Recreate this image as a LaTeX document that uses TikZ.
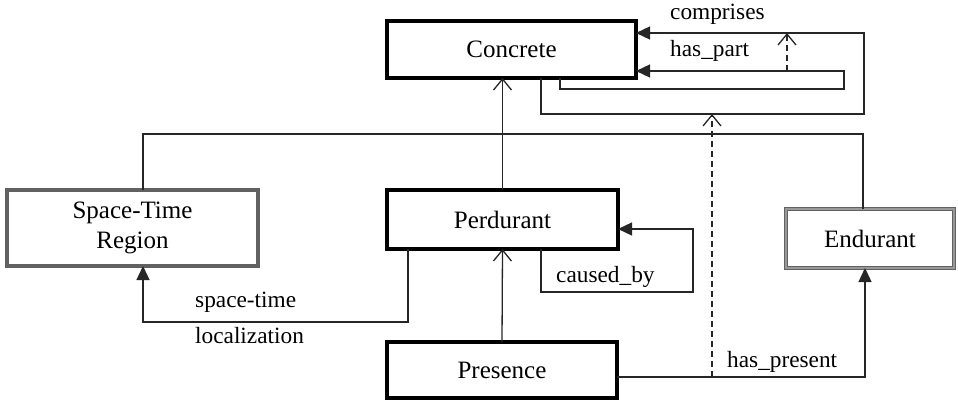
\documentclass[tikz,border=0pt]{standalone}
\usepackage{fontspec}
\setmainfont{Liberation Serif}
\usetikzlibrary{arrows.meta}
\tikzset{
  box/.style={draw=black, line width=3.2pt, fill=white, inner sep=0pt, outer sep=0pt, font=\fontsize{25}{30}\selectfont, align=center},
  graybox/.style={box, draw=black!62, line width=4pt},
  dgraybox/.style={box, draw=black!62, line width=1.7pt, double=black!40, double distance=1.2pt},
  lbl/.style={font=\fontsize{23.3}{27}\selectfont, inner sep=0pt, anchor=base west},
  conn/.style={line width=1.3pt, black!85},
  assoc/.style={conn, -{Triangle[length=14pt, width=13pt]}},
  gen/.style={conn, -{Straight Barb[length=11pt, width=18pt, line width=1.3pt]}},
  dgen/.style={gen, dash pattern=on 6pt off 4pt},
}
\begin{document}
\begin{tikzpicture}[x=1pt, y=-1pt]
\useasboundingbox (0,0) rectangle (958,401);
% nodes
\node[box, minimum width=249pt, minimum height=57pt] (Concrete) at (511.5,49.5) {Concrete};
\node[box, minimum width=231pt, minimum height=59pt] (Perdurant) at (502.5,219.5) {Perdurant};
\node[box, minimum width=230pt, minimum height=56pt] (Presence) at (502,370) {Presence};
\node[graybox, minimum width=251pt, minimum height=76pt] (STR) at (132.5,228) {Space-Time\\Region};
\node[dgraybox, minimum width=168pt, minimum height=59pt] (Endurant) at (870,238.5) {Endurant};
% helper coordinates
\coordinate (hub) at (863,134);
\coordinate (stl) at (143,134);
\coordinate (c1) at (541,114);
\coordinate (c2) at (864,33);
\coordinate (h1) at (560,89);
\coordinate (h2) at (844,71);
\coordinate (d1) at (787,71);
\coordinate (cb1) at (541,292);
\coordinate (cb2) at (693,229);
\coordinate (sl) at (408,322);
\coordinate (sl2) at (143,322);
\coordinate (hp) at (865,377);
\coordinate (d2) at (712,377);
% generalization lines
\draw[conn] (stl |- STR.north) -- (stl) -- (hub) -- (hub |- Endurant.north);
\draw[gen] (Perdurant.north) -- (Perdurant.north |- Concrete.south);
\draw[gen] (Presence.north) -- (Perdurant.south);
% comprises
\draw[assoc] (c1 |- Concrete.south) -- (c1) -| (c2) -- (c2 -| Concrete.east);
% has_part
\draw[assoc] (h1 |- Concrete.south) -- (h1) -| (h2) -- (h2 -| Concrete.east);
% dashed arrows
\draw[dgen] (d1) -- (d1 |- c2);
\draw[dgen] (d2) -- (d2 |- c1);
% caused_by
\draw[assoc] (cb1 |- Perdurant.south) -- (cb1) -| (cb2) -- (cb2 -| Perdurant.east);
% space-time localization
\draw[assoc] (sl |- Perdurant.south) -- (sl) -- (sl2) -- (sl2 |- STR.south);
% has_present
\draw[assoc] (hp -| Presence.east) -- (hp) -- (hp |- Endurant.south);
% labels
\node[lbl] (lcomp) at (670,20) {comprises};
\node[lbl] (lhas) at (670,57) {has\_part};
\node[lbl] (lcaus) at (556,282) {caused\_by};
\node[lbl] (lst) at (195,307) {space-time};
\node[lbl] (lloc) at (195,343) {localization};
\node[lbl] (lhp) at (727,367) {has\_present};
\end{tikzpicture}
\end{document}
